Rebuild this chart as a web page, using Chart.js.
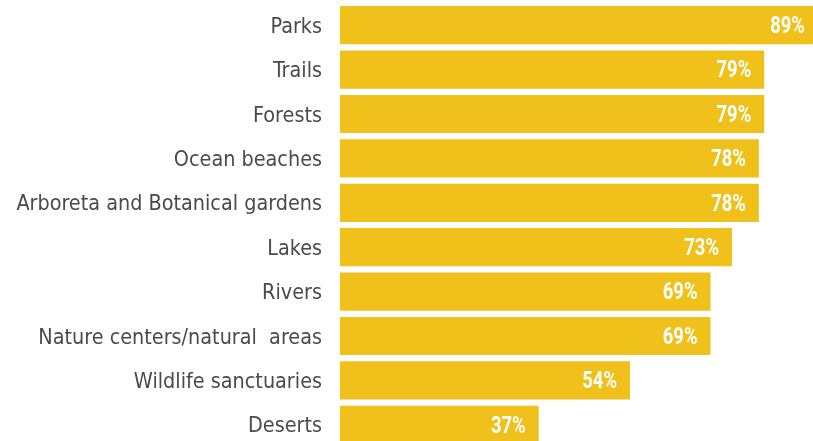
<!DOCTYPE html>
<html><head><meta charset="utf-8">
<script src="https://cdn.jsdelivr.net/npm/chart.js@4.4.1/dist/chart.umd.min.js"></script>
<style>html,body{margin:0;padding:0;background:#fff;overflow:hidden;width:813px;height:441px}
#wrap{position:absolute;left:0;top:0;width:880px;height:447px}</style>
</head><body>
<div id="wrap"><canvas id="c" width="880" height="447"></canvas></div>
<script>
const categories = ["Parks","Trails","Forests","Ocean beaches","Arboreta and Botanical gardens","Lakes","Rivers","Nature centers/natural  areas","Wildlife sanctuaries","Deserts"];
const values = [89,79,79,78,78,73,69,69,54,37];

const labelPlugin={id:'lbl',afterDatasetsDraw(chart){
  const ctx=chart.ctx;const meta=chart.getDatasetMeta(0);
  ctx.save();ctx.fillStyle='#fff';ctx.font='bold 23px Roboto';ctx.textAlign='right';ctx.textBaseline='middle';
  meta.data.forEach((el,i)=>{ctx.save();ctx.translate(el.x-13,el.y+2);ctx.scale(0.8,1);ctx.fillText(values[i]+'%',0,0);ctx.restore();});
  ctx.restore();}};

new Chart(document.getElementById('c'),{type:'bar',
 data:{labels:categories,datasets:[{data:values,backgroundColor:'#F1C11B',borderWidth:0,barPercentage:0.86,categoryPercentage:1}]},
 options:{indexAxis:'y',responsive:false,animation:false,
  layout:{padding:{top:3,right:3,bottom:0,left:0}},
  plugins:{legend:{display:false},tooltip:{enabled:false}},
  scales:{x:{min:0,max:100,display:false},
   y:{afterFit(s){s.width=340;s.paddingTop=0;s.paddingBottom=0;},grid:{display:false,drawTicks:false},border:{display:false},
      ticks:{padding:18,labelOffset:2,color:'#4a4a4a',font:{family:'"DejaVu Sans Condensed"',size:21.4}}}}},
 plugins:[labelPlugin]});
</script></body></html>
